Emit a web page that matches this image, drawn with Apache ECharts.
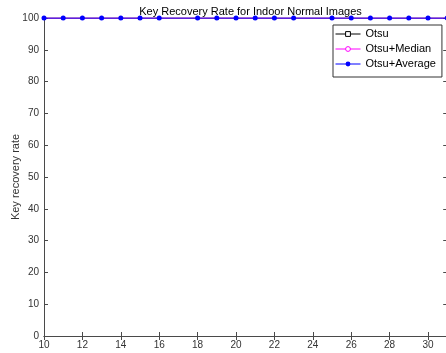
<!DOCTYPE html>
<html>
<head>
<meta charset="utf-8">
<script src="https://cdn.jsdelivr.net/npm/echarts@6/dist/echarts.min.js"></script>
<style>
html,body{margin:0;padding:0;background:#fff;}
#chart{width:446px;height:353px;}
</style>
</head>
<body>
<div id="chart"></div>
<script>
// Data
const xValues = [10, 11, 12, 13, 14, 15, 16, 18, 19, 20, 21, 22, 23, 25, 26, 27, 28, 29, 30, 31];
const otsu = [100, 100, 100, 100, 100, 100, 100, 100, 100, 100, 100, 100, 100, 100, 100, 100, 100, 100, 100, 100];
const otsuMedian = [100, 100, 100, 100, 100, 100, 100, 100, 100, 100, 100, 100, 100, 100, 100, 100, 100, 100, 100, 100];
const otsuAverage = [100, 100, 100, 100, 100, 100, 100, 100, 100, 100, 100, 100, 100, 100, 100, 100, 100, 100, 100, 100];
const seriesNames = ['Otsu', 'Otsu+Median', 'Otsu+Average'];
const titleText = 'Key Recovery Rate for Indoor Normal Images';
const yName = 'Key recovery rate';

const pairs = arr => xValues.map((x, i) => [x, arr[i]]);
const FONT = '"Liberation Sans", Arial, Helvetica, sans-serif';
const AX = '#4a4a4a';

const chart = echarts.init(document.getElementById('chart'), null, {renderer: 'canvas'});
const baseX = {
  type: 'value', min: 10, max: 31, interval: 2,
  axisLine: {show: true, lineStyle: {color: AX, width: 1}},
  axisTick: {show: true, inside: true, length: 4, lineStyle: {color: AX}},
  splitLine: {show: false}
};
const baseY = {
  type: 'value', min: 0, max: 100, interval: 10,
  axisLine: {show: true, lineStyle: {color: AX, width: 1}},
  axisTick: {show: true, inside: true, length: 4, lineStyle: {color: AX}},
  splitLine: {show: false}
};
chart.setOption({
  backgroundColor: '#fff',
  animation: false,
  title: {
    text: titleText, left: 245.5, textAlign: 'center', top: 1,
    textStyle: {fontFamily: FONT, fontSize: 11, fontWeight: 'normal', color: '#000'}
  },
  grid: {left: 44, right: -1.2, top: 18, bottom: 17, containLabel: false, outerBoundsMode: 'none'},
  xAxis: [
    Object.assign({}, baseX, {
      position: 'bottom',
      axisLabel: {show: true, margin: 4, fontFamily: FONT, fontSize: 10, color: '#333', showMaxLabel: false}
    }),
    Object.assign({}, baseX, {position: 'top', axisLabel: {show: false}})
  ],
  yAxis: [
    Object.assign({}, baseY, {
      position: 'left',
      name: yName, nameLocation: 'middle', nameGap: 23, nameMoveOverlap: false,
      nameTextStyle: {fontFamily: FONT, fontSize: 11, color: '#333'},
      axisLabel: {show: true, margin: 5, fontFamily: FONT, fontSize: 10, color: '#333'}
    }),
    Object.assign({}, baseY, {position: 'right', axisLabel: {show: false}})
  ],
  legend: {
    orient: 'vertical', left: 333, top: 25,
    padding: [1.5, 6, 5.5, 2],
    itemWidth: 25, itemHeight: 6, itemGap: 0,
    backgroundColor: '#fff', borderColor: '#333', borderWidth: 1,
    lineStyle: {width: 1},
    textStyle: {fontFamily: FONT, fontSize: 11, lineHeight: 15, color: '#000'},
    data: [
      {name: seriesNames[0], itemStyle: {color: '#fff', borderColor: '#000', borderWidth: 1}},
      {name: seriesNames[1], itemStyle: {color: '#fff', borderColor: '#ff00ff', borderWidth: 1}},
      {name: seriesNames[2], itemStyle: {color: '#0000ff', borderWidth: 0}}
    ]
  },
  series: [
    {
      name: seriesNames[0], type: 'line', data: pairs(otsu),
      symbol: 'rect', symbolSize: 5, showSymbol: false,
      lineStyle: {color: '#000', width: 1}, itemStyle: {color: '#000'}, z: 2
    },
    {
      name: seriesNames[1], type: 'line', data: pairs(otsuMedian),
      symbol: 'circle', symbolSize: 5, showSymbol: false,
      lineStyle: {color: '#ff00ff', width: 1}, itemStyle: {color: '#ff00ff'}, z: 3
    },
    {
      name: seriesNames[2], type: 'line', data: pairs(otsuAverage),
      symbol: 'circle', symbolSize: 5,
      lineStyle: {color: '#0000ff', width: 1}, itemStyle: {color: '#0000ff', borderWidth: 0}, z: 4
    }
  ]
});
</script>
</body>
</html>
